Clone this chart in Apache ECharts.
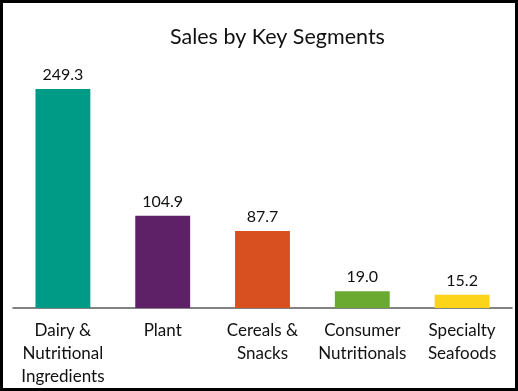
<!DOCTYPE html>
<html><head><meta charset="utf-8">
<script src="https://cdn.jsdelivr.net/npm/echarts@6/dist/echarts.min.js"></script>
<style>
html,body{margin:0;padding:0;background:#fff;}
#wrap{width:518px;height:391px;box-sizing:border-box;border:3px solid #000;position:relative;}
#chart{position:absolute;left:-3px;top:-3px;width:518px;height:391px;}
</style></head>
<body><div id="wrap"><div id="chart"></div></div>
<script>
const categories = ["Dairy &\nNutritional\nIngredients", "Plant", "Cereals &\nSnacks", "Consumer\nNutritionals", "Specialty\nSeafoods"];
const values = [249.3, 104.9, 87.7, 19.0, 15.2];
const colors = ["#009B86", "#5E2167", "#D84F20", "#6AAA31", "#FCD419"];
const chart = echarts.init(document.getElementById('chart'), null, {renderer:'canvas'});
chart.setOption({
  animation:false,
  title:{text:"Sales by Key Segments", left:165, top:21, textStyle:{fontFamily:'Lato', fontSize:21.5, fontWeight:'normal', color:'#111'}},
  grid:{left:13, right:6, top:89, bottom:83, containLabel:false},
  xAxis:{type:'category', data:categories,
    axisLine:{lineStyle:{color:'#595959', width:1.5}}, axisTick:{show:false},
    axisLabel:{interval:0, margin:11, fontFamily:'Lato', fontSize:17, lineHeight:23, color:'#111', align:'center'}},
  yAxis:{type:'value', min:0, max:249.3, show:false, splitLine:{show:false}},
  series:[{type:'bar', barCategoryGap:'45%',
    data: values.map((v,i)=>({value:v, itemStyle:{color:colors[i]}})),
    label:{show:true, position:'top', distance:6, fontFamily:'Lato', fontSize:16, color:'#111', formatter:p=>p.value.toFixed(1)}
  }]
});
</script></body></html>
